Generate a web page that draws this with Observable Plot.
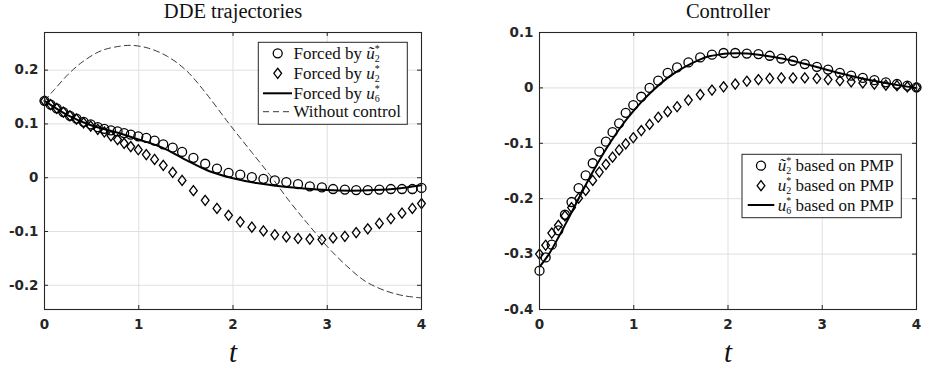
<!DOCTYPE html>
<html><head><meta charset="utf-8">
<script src="https://cdn.jsdelivr.net/npm/d3@7"></script>
<script src="https://cdn.jsdelivr.net/npm/@observablehq/plot@0.6"></script>
<style>
body{margin:0;background:#fff;}
#row{display:flex;width:926px;height:371px;}
#row svg{overflow:visible;background:#fff;}
</style></head><body><div id="row"></div>
<script>
// ---------- data ----------
const tNodes = [0, 0.065, 0.13, 0.2, 0.27, 0.34, 0.415, 0.49, 0.565, 0.635, 0.705, 0.775, 0.845, 0.915, 0.995, 1.08, 1.168, 1.26, 1.36, 1.46, 1.58, 1.705, 1.83, 1.953, 2.077, 2.2, 2.323, 2.443, 2.566, 2.69, 2.815, 2.943, 3.062, 3.187, 3.307, 3.43, 3.553, 3.675, 3.793, 3.903, 4.0];

// left panel: DDE trajectories
const leftCircle = [0.143,0.136,0.129,0.122,0.115,0.110,0.104,0.099,0.094,0.091,0.088,0.086,0.083,0.080,0.077,0.074,0.069,0.062,0.056,0.048,0.037,0.026,0.017,0.009,0.0056,0.001,-0.002,-0.005,-0.008,-0.012,-0.016,-0.018,-0.021,-0.022,-0.023,-0.023,-0.022,-0.021,-0.021,-0.021,-0.019];
const leftDiamond = [0.143,0.136,0.129,0.122,0.115,0.109,0.102,0.096,0.090,0.085,0.078,0.071,0.064,0.058,0.052,0.043,0.034,0.023,0.010,-0.005,-0.024,-0.042,-0.057,-0.070,-0.082,-0.092,-0.099,-0.106,-0.110,-0.113,-0.114,-0.115,-0.112,-0.109,-0.102,-0.095,-0.085,-0.076,-0.066,-0.057,-0.048];
const leftSolidT = [0,0.25,0.5,0.75,1,1.25,1.5,1.75,2,2.25,2.5,2.75,3,3.25,3.5,3.75,4];
const leftSolid = [0.143,0.116,0.097,0.085,0.071,0.056,0.033,0.012,-0.001,-0.010,-0.016,-0.020,-0.023,-0.024,-0.023,-0.020,-0.014];
const noControlT = [0,0.1,0.25,0.4,0.6,0.8,0.93,1.1,1.3,1.5,1.7,1.96,2.2,2.4,2.6,2.8,3.0,3.2,3.4,3.6,3.8,4.0];
const noControl = [0.143,0.163,0.192,0.215,0.236,0.2445,0.246,0.241,0.226,0.200,0.160,0.100,0.047,0.003,-0.044,-0.087,-0.128,-0.163,-0.192,-0.209,-0.219,-0.2235];

// right panel: Controller
const rightCircle = [-0.330,-0.306,-0.283,-0.257,-0.229,-0.206,-0.181,-0.158,-0.136,-0.115,-0.097,-0.080,-0.064,-0.045,-0.031,-0.016,0.0,0.013,0.027,0.037,0.046,0.055,0.060,0.063,0.063,0.062,0.061,0.058,0.053,0.049,0.043,0.038,0.033,0.027,0.022,0.018,0.014,0.010,0.007,0.004,0.001];
const rightDiamond = [-0.300,-0.284,-0.262,-0.248,-0.231,-0.216,-0.199,-0.185,-0.167,-0.152,-0.138,-0.125,-0.112,-0.101,-0.090,-0.077,-0.066,-0.053,-0.043,-0.034,-0.022,-0.012,-0.004,0.002,0.007,0.012,0.015,0.017,0.018,0.018,0.018,0.017,0.015,0.013,0.011,0.009,0.007,0.005,0.004,0.002,0.001];
const rightSolidT = [0,0.1,0.2,0.3,0.4,0.5,0.6,0.7,0.8,0.9,1.0,1.1,1.2,1.3,1.4,1.5,1.6,1.7,1.8,1.9,2.0,2.2,2.4,2.6,2.8,3.0,3.2,3.4,3.6,3.8,4.0];
const rightSolid = [-0.323,-0.300,-0.270,-0.238,-0.205,-0.172,-0.141,-0.112,-0.086,-0.062,-0.041,-0.022,-0.005,0.010,0.023,0.034,0.043,0.051,0.057,0.060,0.062,0.062,0.058,0.052,0.044,0.035,0.026,0.018,0.011,0.005,0.000];

// ticks
const xTicks = [0,1,2,3,4];
const leftYTicks = [-0.2,-0.1,0,0.1,0.2];
const rightYTicks = [-0.4,-0.3,-0.2,-0.1,0,0.1];

const leftTitle = "DDE trajectories";
const rightTitle = "Controller";

// ---------- helpers ----------
const INK = "#262626";
const diamondSym = {draw(ctx, size){const r=Math.sqrt(size/Math.PI);const h=r*1.12,w=r*0.86;ctx.moveTo(0,-h);ctx.lineTo(w,0);ctx.lineTo(0,h);ctx.lineTo(-w,0);ctx.closePath();}};
const zip = (xs, ys) => xs.map((x,i)=>({x, y: ys[i]}));
const fmt = d => `${d}`;

function panel(o){
  const [y0,y1] = o.yDomain;
  const tly = (y1-y0)*0.0145, tlx = 4*0.0106;
  return Plot.plot({
    width: 463, height: 371,
    marginLeft: o.ml, marginRight: o.mr, marginTop: 32, marginBottom: 62,
    x: {domain:[0,4]}, y: {domain:o.yDomain},
    style: {background:"#fff", color: INK},
    marks: [
      Plot.gridX(xTicks, {stroke:"#dfdfdf", strokeOpacity:1, strokeWidth:1}),
      Plot.gridY(o.yTicks, {stroke:"#dfdfdf", strokeOpacity:1, strokeWidth:1}),
      Plot.ruleX(xTicks, {y1:y0, y2:y0+tly, stroke:INK}),
      Plot.ruleX(xTicks, {y1:y1-tly, y2:y1, stroke:INK}),
      Plot.ruleY(o.yTicks, {x1:0, x2:tlx, stroke:INK}),
      Plot.ruleY(o.yTicks, {x1:4-tlx, x2:4, stroke:INK}),
      ...o.marks,
      Plot.frame({stroke:INK, strokeWidth:1.1}),
      Plot.axisX(xTicks, {tickSize:0, tickPadding:10, tickFormat:fmt, fontSize:13.5, fontWeight:"bold", fontFamily:"DejaVu Sans", fill:INK, label:null}),
      Plot.axisY(o.yTicks, {tickSize:0, tickPadding:6, tickFormat:fmt, fontSize:13.5, fontWeight:"bold", fontFamily:"DejaVu Sans", fill:INK, label:null}),
      Plot.text([o.title], {frameAnchor:"top", lineAnchor:"middle", dy:-21.5, fontSize:20.5, fontFamily:"Liberation Serif", fill:"#111"}),
      Plot.text(["t"], {frameAnchor:"bottom", lineAnchor:"middle", dy:43.5, fontSize:29, fontStyle:"italic", fontFamily:"Liberation Serif", fill:"#111"})
    ]
  });
}

function mathLabel(textSel, tilde, sub, after){
  textSel.append("tspan").attr("font-style","italic").text(tilde ? "\u0169" : "u");
  textSel.append("tspan").attr("font-size",10).attr("dy",-7).text("*");
  textSel.append("tspan").attr("font-size",10).attr("dx",-5).attr("dy",10).text(sub);
  if (after) textSel.append("tspan").attr("dy",-3).text(after);
}

function legend(svg, box, rows){
  const g = d3.select(svg).append("g").attr("text-anchor","start");
  g.append("rect").attr("x",box.x).attr("y",box.y).attr("width",box.w).attr("height",box.h)
    .attr("fill","#fff").attr("stroke",INK).attr("stroke-width",1);
  rows.forEach(r=>{
    const cy = r.y;
    if (r.kind==="circle") g.append("circle").attr("cx",box.mx).attr("cy",cy).attr("r",4.5).attr("fill","none").attr("stroke","#000").attr("stroke-width",1.3);
    if (r.kind==="diamond"){ const p=d3.path(); diamondSym.draw(p, Math.PI*4.5*4.5); g.append("path").attr("d",p.toString()).attr("transform",`translate(${box.mx},${cy})`).attr("fill","none").attr("stroke","#000").attr("stroke-width",1.3);}
    if (r.kind==="line") g.append("line").attr("x1",box.l1).attr("x2",box.l2).attr("y1",cy).attr("y2",cy).attr("stroke","#000").attr("stroke-width",2);
    if (r.kind==="dash") g.append("line").attr("x1",box.l1).attr("x2",box.l2).attr("y1",cy).attr("y2",cy).attr("stroke","#222").attr("stroke-width",0.9).attr("stroke-dasharray","6,4");
    const t = g.append("text").attr("x",box.tx).attr("y",cy+5.5).attr("text-anchor","start").attr("font-family","Liberation Serif").attr("font-size",17).attr("fill","#111");
    r.write(t);
  });
}

// ---------- left panel ----------
const left = panel({
  ml:44, mr:42, yDomain:[-0.245,0.27], yTicks:leftYTicks, title:leftTitle,
  marks:[
    Plot.line(zip(noControlT, noControl), {x:"x", y:"y", stroke:"#222", strokeWidth:0.9, strokeDasharray:"6,4", curve:"catmull-rom"}),
    Plot.line(zip(leftSolidT, leftSolid), {x:"x", y:"y", stroke:"#000", strokeWidth:2, curve:"catmull-rom"}),
    Plot.dot(zip(tNodes, leftCircle), {x:"x", y:"y", r:4.5, stroke:"#000", strokeWidth:1.3, fill:"none"}),
    Plot.dot(zip(tNodes, leftDiamond), {x:"x", y:"y", r:4.5, symbol:diamondSym, stroke:"#000", strokeWidth:1.3, fill:"none"})
  ]
});
legend(left, {x:258.3, y:42.3, w:149, h:82, mx:277.7, l1:263, l2:292, tx:293.5}, [
  {kind:"circle", y:53.3, write:t=>{t.append("tspan").text("Forced by "); mathLabel(t,true,"2");}},
  {kind:"diamond", y:73.3, write:t=>{t.append("tspan").text("Forced by "); mathLabel(t,false,"2");}},
  {kind:"line", y:93.3, write:t=>{t.append("tspan").text("Forced by "); mathLabel(t,false,"6");}},
  {kind:"dash", y:111.7, write:t=>{t.text("Without control");}}
]);

// ---------- right panel ----------
const right = panel({
  ml:76, mr:10, yDomain:[-0.4,0.1], yTicks:rightYTicks, title:rightTitle,
  marks:[
    Plot.line(zip(rightSolidT, rightSolid), {x:"x", y:"y", stroke:"#000", strokeWidth:2, curve:"catmull-rom"}),
    Plot.dot(zip(tNodes, rightCircle), {x:"x", y:"y", r:4.5, stroke:"#000", strokeWidth:1.3, fill:"none"}),
    Plot.dot(zip(tNodes, rightDiamond), {x:"x", y:"y", r:4.5, symbol:diamondSym, stroke:"#000", strokeWidth:1.3, fill:"none"})
  ]
});
legend(right, {x:279, y:154.3, w:159.3, h:63.4, mx:298, l1:284.7, l2:311.3, tx:314.7}, [
  {kind:"circle", y:165.7, write:t=>mathLabel(t,true,"2"," based on PMP")},
  {kind:"diamond", y:185.7, write:t=>mathLabel(t,false,"2"," based on PMP")},
  {kind:"line", y:205, write:t=>mathLabel(t,false,"6"," based on PMP")}
]);

document.getElementById("row").append(left, right);
</script></body></html>
